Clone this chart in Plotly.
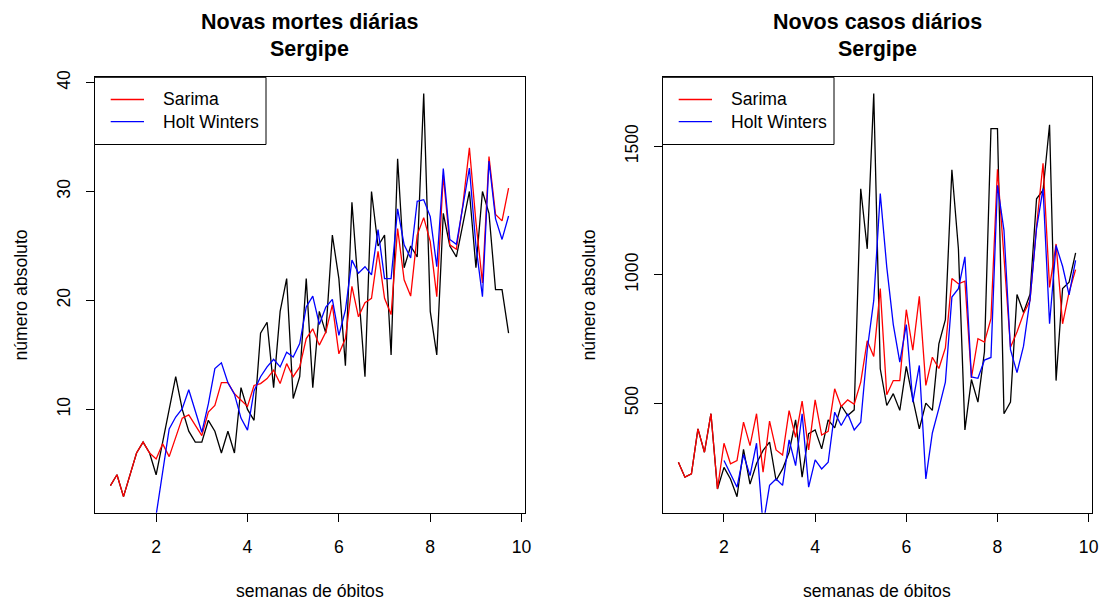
import plotly.graph_objects as go

# ---- data -------------------------------------------------------------
days = list(range(62))
semanas = [1 + d / 7 for d in days]

# Novas mortes diárias (Sergipe)
obitos_obs = [3, 4, 2, 4, 6, 7, 6, 4, 7, 10, 13, 10, 8, 7, 7, 9, 8, 6, 8, 6,
              12, 10, 9, 17, 18, 12, 19, 22, 11, 13, 22, 12, 19, 17, 26, 22, 14, 29, 21, 13,
              30, 25, 26, 15, 33, 23, 25, 24, 39, 19, 15, 28, 25, 24, 27, 30, 23, 30, 28, 21,
              21, 17]
obitos_sarima = [3, 4, 2, 4, 6, 7, 6, 5.45, 6.84, 5.67, 7.45, 9.2, 9.5, 8.5, 7.6, 9.75,
                 10.37, 12.46, 12.46, 11.44, 10.83, 10.28, 12.2, 12.37, 12.83, 13.6, 12.37,
                 14.2, 13.0, 13.9, 16.5, 17.4, 15.9, 17.1, 19.6, 15.1, 16.5, 21.3, 18.5, 19.8,
                 20.2, 24.5, 20.2, 18.7, 26.6, 21.9, 20.4, 26.0, 27.6, 25.4, 20.35, 31.5, 25.1,
                 24.7, 28.8, 34.0, 27.2, 21.6, 33.2, 27.9, 27.3, 30.3]
obitos_hw = [None] * 7 + [0.3, 4.4, 8.2, 9.3, 10.06, 11.8, 9.9, 7.9, 10.5, 13.75, 14.27,
                          12.45, 11.4, 9.2, 8.1, 11.7, 13.0, 13.9, 14.6, 13.9, 15.25, 14.8,
                          16.05, 19.4, 20.4, 17.8, 19.4, 20.1, 16.8, 19.1, 23.7, 22.5, 23.1,
                          22.35, 26.5, 22.0, 22.0, 28.4, 25.1, 23.9, 29.1, 29.25, 27.7, 23.1,
                          32.1, 25.6, 25.15, 28.6, 32.15, 25.0, 20.35, 32.8, 27.5, 25.6, 27.75]

# Novos casos diários (Sergipe)
casos_obs = [270, 212, 225, 400, 309, 459, 166, 250, 205, 136, 320, 185, 265, 316, 348,
             199, 244, 309, 435, 212, 381, 396, 322, 435, 404, 491, 452, 474, 1335, 1101,
             1706, 634, 491, 537, 472, 643, 517, 400, 500, 472, 731, 825, 1409, 1102, 396,
             592, 504, 700, 1569, 1569, 459, 504, 923, 853, 924, 1296, 1329, 1584, 588, 946,
             971, 1085]
casos_sarima = [270, 212, 225, 400, 309, 459, 166, 344, 264, 277, 426, 335, 459, 231, 430,
                318, 298, 471, 367, 508, 318, 513, 376, 390, 556, 487, 513, 496, 582, 743,
                682, 946, 533, 588, 588, 864, 706, 916, 569, 679, 635, 715, 985, 965, 975,
                598, 751, 738, 829, 1411, 1069, 718, 777, 848, 900, 1188, 1434, 951, 1120,
                809, 932, 1020]
casos_hw = [None] * 7 + [277, 225, 173, 300, 218, 344, 25, 180, 205, 180, 357, 257, 459, 173,
                         279, 244, 270, 465, 413, 459, 396, 426, 708, 900, 1316, 1030, 806,
                         660, 806, 504, 647, 205, 384, 480, 582, 913, 946, 1070, 602, 597,
                         668, 678, 1348, 1173, 708, 619, 722, 904, 1180, 1335, 809, 1114,
                         1033, 922, 1056]

x_ticks = [2, 4, 6, 8, 10]
y_ticks_obitos = [10, 20, 30, 40]
y_ticks_casos = [500, 1000, 1500]

titulos = ["Novas mortes diárias", "Novos casos diários"]
subtitulo = "Sergipe"
rotulo_x = "semanas de óbitos"
rotulo_y = "número absoluto"
legenda = ["Sarima", "Holt Winters"]

# ---- figure -----------------------------------------------------------
W, H = 1104, 601
FONT = "Liberation Sans, Arial, Helvetica, sans-serif"
FS = 17.6


def px(x):
    return x / W


def py(y):
    return 1 - y / H


fig = go.Figure()

series = [
    ("x", "y", obitos_obs, obitos_sarima, obitos_hw),
    ("x2", "y2", casos_obs, casos_sarima, casos_hw),
]
for xa, ya, obs, sar, hw in series:
    fig.add_trace(go.Scatter(x=semanas, y=obs, mode="lines", xaxis=xa, yaxis=ya,
                             line=dict(color="black", width=1.3), showlegend=False))
    fig.add_trace(go.Scatter(x=semanas, y=sar, mode="lines", xaxis=xa, yaxis=ya,
                             line=dict(color="#ff0000", width=1.3), showlegend=False))
    fig.add_trace(go.Scatter(x=semanas, y=hw, mode="lines", xaxis=xa, yaxis=ya,
                             line=dict(color="#0000ff", width=1.3), showlegend=False))

axis_style = dict(showgrid=False, zeroline=False, showline=True, linecolor="black",
                  linewidth=1, mirror=True, ticks="outside", ticklen=8, tickwidth=1,
                  automargin=False,
                  tickcolor="black", tickfont=dict(family=FONT, size=FS, color="black"))

y_dom = [py(512.7), py(77.3)]
panels = [(94.5, 524.5), (662.5, 1091.5)]

fig.update_layout(
    width=W, height=H,
    margin=dict(l=0, r=0, t=0, b=0, pad=0, autoexpand=False),
    paper_bgcolor="white", plot_bgcolor="white",
    showlegend=False,
    xaxis=dict(domain=[px(panels[0][0]), px(panels[0][1])], range=[0.651, 10.063],
               tickvals=x_ticks, anchor="y", ticklabelstandoff=10, **axis_style),
    yaxis=dict(domain=y_dom, range=[0.52, 40.48], tickvals=y_ticks_obitos, anchor="x",
               tickangle=-90, ticklabelstandoff=8, **axis_style),
    xaxis2=dict(domain=[px(panels[1][0]), px(panels[1][1])], range=[0.651, 10.063],
                tickvals=x_ticks, anchor="y2", ticklabelstandoff=10, **axis_style),
    yaxis2=dict(domain=y_dom, range=[73.6, 1768.8], tickvals=y_ticks_casos, anchor="x2",
                tickangle=-90, ticklabelstandoff=8, **axis_style),
)

annotations = []
shapes = []
for k, (left, right) in enumerate(panels):
    cx = (left + right) / 2
    annotations.append(dict(text="<b>%s</b>" % titulos[k], x=px(cx), y=py(22),
                            xref="paper", yref="paper", showarrow=False,
                            xanchor="center", yanchor="middle",
                            font=dict(family=FONT, size=21.5, color="black")))
    annotations.append(dict(text="<b>%s</b>" % subtitulo, x=px(cx), y=py(49),
                            xref="paper", yref="paper", showarrow=False,
                            xanchor="center", yanchor="middle",
                            font=dict(family=FONT, size=21.5, color="black")))
    annotations.append(dict(text=rotulo_x, x=px(cx), y=py(591),
                            xref="paper", yref="paper", showarrow=False,
                            xanchor="center", yanchor="middle",
                            font=dict(family=FONT, size=FS, color="black")))
    annotations.append(dict(text=rotulo_y, x=px(left - 74), y=py(295), textangle=-90,
                            xref="paper", yref="paper", showarrow=False,
                            xanchor="center", yanchor="middle",
                            font=dict(family=FONT, size=FS, color="black")))

    # legend box
    bx0, bx1, by0, by1 = left, left + 171.5, 77.3, 144.5
    shapes.append(dict(type="rect", xref="paper", yref="paper",
                       x0=px(bx0), x1=px(bx1), y0=py(by1), y1=py(by0),
                       line=dict(color="black", width=1), fillcolor="white", layer="above"))
    for j, (cor, yy) in enumerate([("#ff0000", 99.5), ("#0000ff", 121.7)]):
        shapes.append(dict(type="line", xref="paper", yref="paper",
                           x0=px(left + 16.2), x1=px(left + 49.5), y0=py(yy), y1=py(yy),
                           line=dict(color=cor, width=1.3), layer="above"))
        annotations.append(dict(text=legenda[j], x=px(left + 66.5), y=py(yy),
                                xref="paper", yref="paper", showarrow=False,
                                xanchor="left", yanchor="middle",
                                font=dict(family=FONT, size=FS, color="black")))

fig.update_layout(annotations=annotations, shapes=shapes)

fig.write_html("out.html")
